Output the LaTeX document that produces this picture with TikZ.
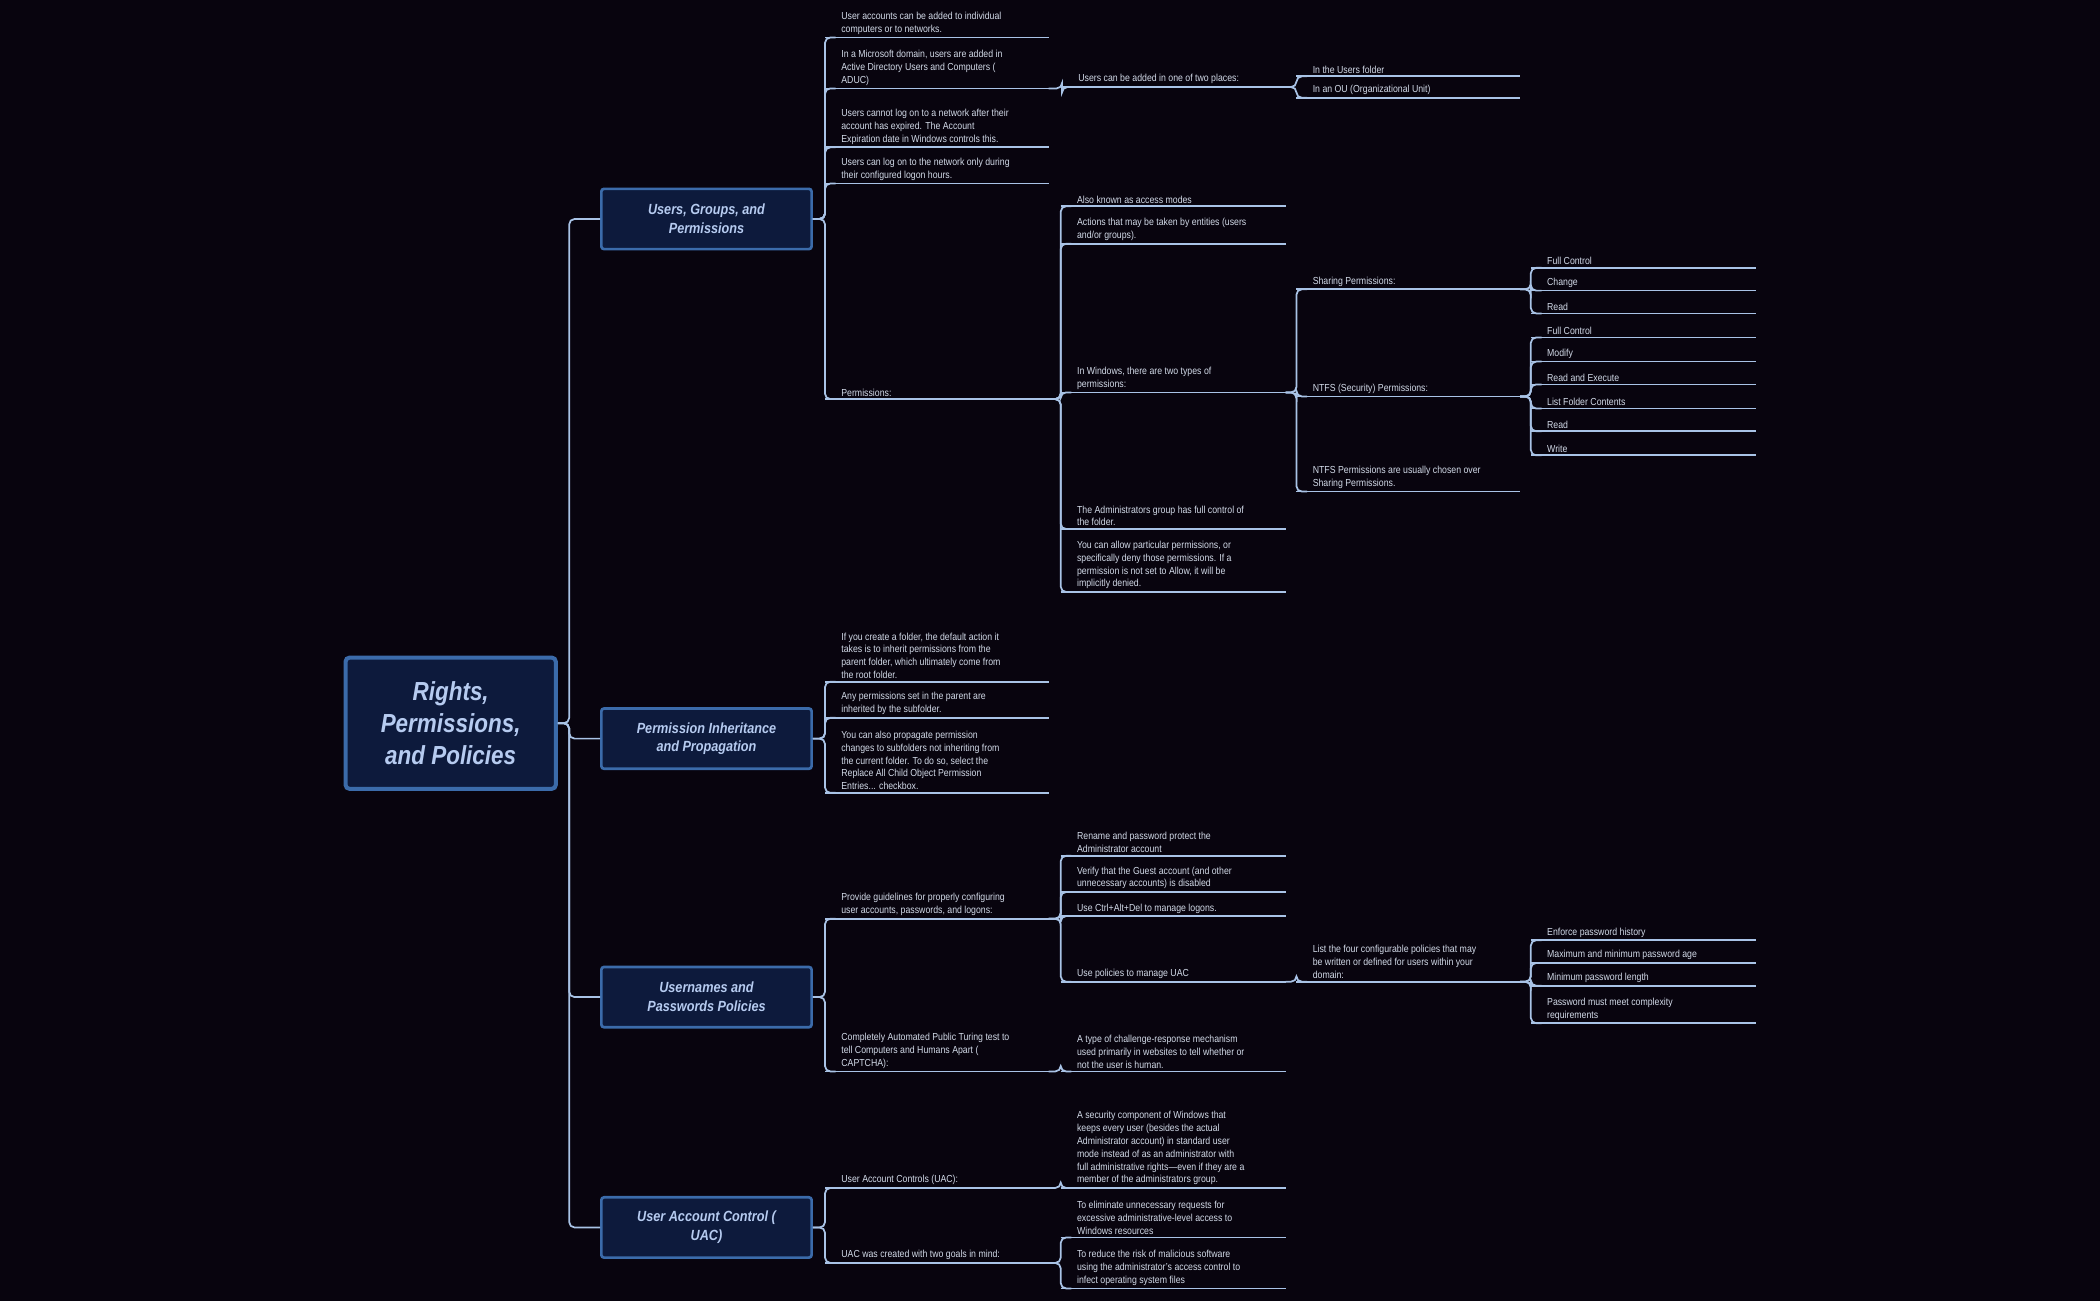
\documentclass[tikz,border=0pt]{standalone}
\usepackage{fontspec}
\setmainfont{Liberation Sans}[FakeStretch=0.86]
\definecolor{bg}{HTML}{08040E}
\definecolor{ln}{HTML}{A9C3E6}
\definecolor{tx}{HTML}{D2DAE8}
\definecolor{bt}{HTML}{B6CBF0}
\definecolor{bf}{HTML}{0D1A3C}
\definecolor{bd}{HTML}{3B6BAA}
\tikzset{
 uline/.style={draw=ln,line width=1.3pt},
 conn/.style={draw=ln,line width=1.3pt,rounded corners=4pt},
 leaf/.style={anchor=south west,inner sep=0pt,align=left,text=tx,font=\fontsize{7.6}{9.6}\selectfont},
 branch/.style={draw=bd,fill=bf,line width=2pt,rounded corners=2pt,minimum width=157pt,minimum height=45pt,align=center,text=bt,font=\fontsize{11}{14}\selectfont\bfseries\itshape},
 rootbox/.style={draw=bd,fill=bf,line width=3pt,rounded corners=3pt,minimum width=157pt,minimum height=98pt,align=center,text=bt,font=\fontsize{19.5}{24}\selectfont\bfseries\itshape},
}
\newcommand{\leaf}[6]{%
 \coordinate (#1-s) at (#2,#4); \coordinate (#1-e) at (#3,#4);
 \draw[uline] (#1-s) -- (#1-e);
 \node[leaf] (#1) at ([xshift=12pt,yshift=2pt]#1-s) {#6};}
\newcommand{\lnk}[2]{\draw[conn] (#1) -| (#2-s) -- ([xshift=8pt]#2-s);}
\begin{document}
\begin{tikzpicture}[x=1pt,y=-1pt]
\fill[bg] (0,0) rectangle (1568,971.5);
\useasboundingbox (0,0) rectangle (1568,971.5);
% root and branches
\node[rootbox] (root) at (336.5,540) {Rights,\\Permissions,\\and Policies};
\node[branch] (b1) at (527.5,163.5) {Users, Groups, and\\Permissions};
\node[branch] (b2) at (527.5,551.5) {Permission Inheritance\\and Propagation};
\node[branch] (b3) at (527.5,744.5) {Usernames and\\Passwords Policies};
\node[branch] (b4) at (527.5,916.5) {User Account Control (\\UAC)};
\coordinate (rt) at (425,540);
\foreach \b in {b1,b2,b3,b4}{\draw[conn] (root.east) -- (rt) |- (\b.west);}
% level 2 under b1
\leaf{a1}{616}{783}{28}{}{User accounts can be added to individual\\computers or to networks.}
\leaf{a2}{616}{783}{66}{}{In a Microsoft domain, users are added in\\Active Directory Users and Computers (\\ADUC)}
\leaf{a3}{616}{783}{110}{}{Users cannot log on to a network after their\\account has expired. The Account\\Expiration date in Windows controls this.}
\leaf{a4}{616}{783}{137}{}{Users can log on to the network only during\\their configured logon hours.}
\leaf{a5}{616}{783}{298}{}{Permissions:}
\foreach \c in {a1,a2,a3,a4,a5}{\lnk{b1.east}{\c}}
\leaf{a21}{793}{960}{65}{}{Users can be added in one of two places:}
\lnk{a2-e}{a21}
\leaf{a211}{968}{1135}{57}{}{In the Users folder}
\leaf{a212}{968}{1135}{73}{}{In an OU (Organizational Unit)}
\lnk{a21-e}{a211}\lnk{a21-e}{a212}
% permissions
\leaf{p1}{792}{960}{154}{}{Also known as access modes}
\leaf{p2}{792}{960}{182}{}{Actions that may be taken by entities (users\\and/or groups).}
\leaf{p3}{792}{960}{293}{}{In Windows, there are two types of\\permissions:}
\leaf{p4}{792}{960}{395}{}{The Administrators group has full control of\\the folder.}
\leaf{p5}{792}{960}{442}{}{You can allow particular permissions, or\\specifically deny those permissions. If a\\permission is not set to Allow, it will be\\implicitly denied.}
\foreach \c in {p1,p2,p3,p4,p5}{\lnk{a5-e}{\c}}
\leaf{w1}{968}{1135}{216}{}{Sharing Permissions:}
\leaf{w2}{968}{1135}{296}{}{NTFS (Security) Permissions:}
\leaf{w3}{968}{1135}{367}{}{NTFS Permissions are usually chosen over\\Sharing Permissions.}
\foreach \c in {w1,w2,w3}{\lnk{p3-e}{\c}}
\leaf{s1}{1143}{1311}{200}{}{Full Control}
\leaf{s2}{1143}{1311}{217}{}{Change}
\leaf{s3}{1143}{1311}{234}{}{Read}
\foreach \c in {s1,s2,s3}{\lnk{w1-e}{\c}}
\leaf{n1}{1143}{1311}{252}{}{Full Control}
\leaf{n2}{1143}{1311}{270}{}{Modify}
\leaf{n3}{1143}{1311}{287}{}{Read and Execute}
\leaf{n4}{1143}{1311}{305}{}{List Folder Contents}
\leaf{n5}{1143}{1311}{322}{}{Read}
\leaf{n6}{1143}{1311}{340}{}{Write}
\foreach \c in {n1,n2,n3,n4,n5,n6}{\lnk{w2-e}{\c}}
% b2
\leaf{i1}{616}{783}{509}{}{If you create a folder, the default action it\\takes is to inherit permissions from the\\parent folder, which ultimately come from\\the root folder.}
\leaf{i2}{616}{783}{536}{}{Any permissions set in the parent are\\inherited by the subfolder.}
\leaf{i3}{616}{783}{592}{}{You can also propagate permission\\changes to subfolders not inheriting from\\the current folder. To do so, select the\\Replace All Child Object Permission\\Entries... checkbox.}
\foreach \c in {i1,i2,i3}{\lnk{b2.east}{\c}}
% b3
\leaf{u1}{616}{783}{686}{}{Provide guidelines for properly configuring\\user accounts, passwords, and logons:}
\leaf{u2}{616}{783}{800}{}{Completely Automated Public Turing test to\\tell Computers and Humans Apart (\\CAPTCHA):}
\foreach \c in {u1,u2}{\lnk{b3.east}{\c}}
\leaf{g1}{792}{960}{639}{}{Rename and password protect the\\Administrator account}
\leaf{g2}{792}{960}{666}{}{Verify that the Guest account (and other\\unnecessary accounts) is disabled}
\leaf{g3}{792}{960}{684}{}{Use Ctrl+Alt+Del to manage logons.}
\leaf{g4}{792}{960}{733}{}{Use policies to manage UAC}
\foreach \c in {g1,g2,g3,g4}{\lnk{u1-e}{\c}}
\leaf{l1}{968}{1135}{733}{}{List the four configurable policies that may\\be written or defined for users within your\\domain:}
\lnk{g4-e}{l1}
\leaf{q1}{1143}{1311}{702}{}{Enforce password history}
\leaf{q2}{1143}{1311}{719}{}{Maximum and minimum password age}
\leaf{q3}{1143}{1311}{736}{}{Minimum password length}
\leaf{q4}{1143}{1311}{764}{}{Password must meet complexity\\requirements}
\foreach \c in {q1,q2,q3,q4}{\lnk{l1-e}{\c}}
\leaf{c1}{792}{960}{800}{}{A type of challenge-response mechanism\\used primarily in websites to tell whether or\\not the user is human.}
\lnk{u2-e}{c1}
% b4
\leaf{v1}{616}{783}{887}{}{User Account Controls (UAC):}
\leaf{v2}{616}{783}{943}{}{UAC was created with two goals in mind:}
\foreach \c in {v1,v2}{\lnk{b4.east}{\c}}
\leaf{v11}{792}{960}{887}{}{A security component of Windows that\\keeps every user (besides the actual\\Administrator account) in standard user\\mode instead of as an administrator with\\full administrative rights—even if they are a\\member of the administrators group.}
\lnk{v1-e}{v11}
\leaf{v21}{792}{960}{924}{}{To eliminate unnecessary requests for\\excessive administrative-level access to\\Windows resources}
\leaf{v22}{792}{960}{962}{}{To reduce the risk of malicious software\\using the administrator's access control to\\infect operating system files}
\foreach \c in {v21,v22}{\lnk{v2-e}{\c}}
\end{tikzpicture}
\end{document}
